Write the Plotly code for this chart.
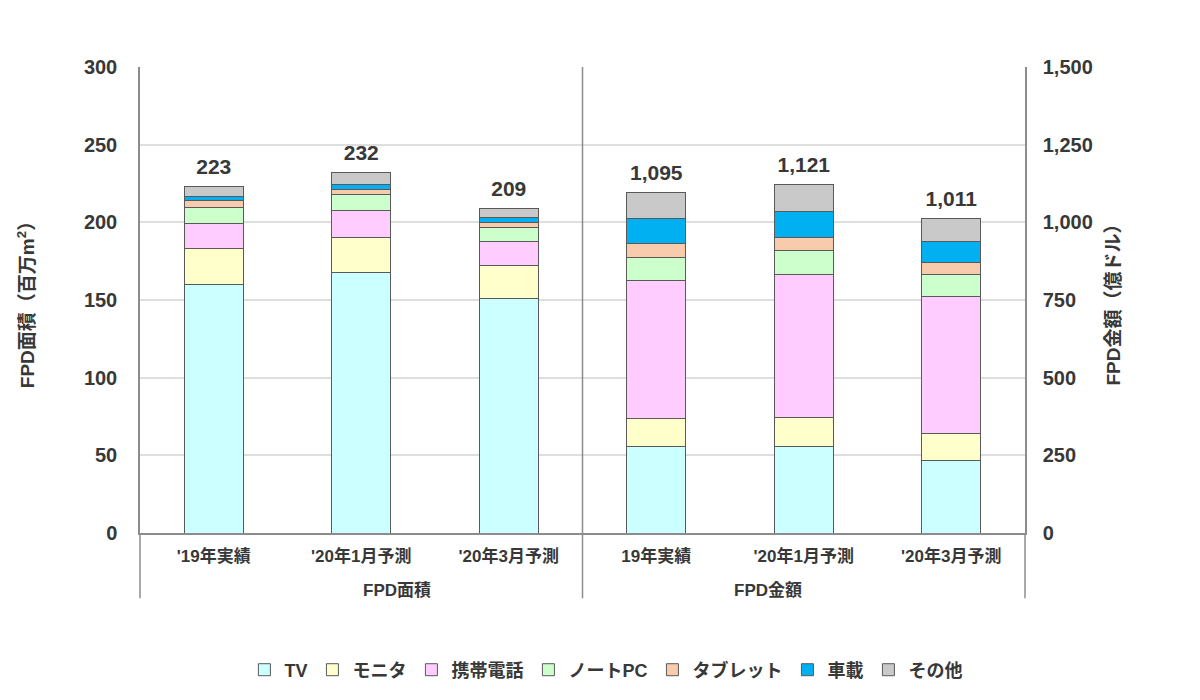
import plotly.graph_objects as go

# ---- data ----
groups = ["FPD面積", "FPD金額"]
area_cats = ["'19年実績", "'20年1月予測", "'20年3月予測"]
value_cats = ["19年実績", "'20年1月予測", "'20年3月予測"]

series_names = ["TV", "モニタ", "携帯電話", "ノートPC", "タブレット", "車載", "その他"]
series_colors = ["#CCFFFF", "#FFFFCC", "#FFCCFF", "#CCFFCC", "#F8CBAD", "#00B0F0", "#C9C9C9"]

# FPD area (million m2)
area_tv = [160, 168, 151]
area_monitor = [23, 22.5, 21]
area_phone = [16.5, 17, 15.5]
area_notepc = [10, 10.5, 9]
area_tablet = [4.5, 3, 3.5]
area_car = [2.5, 3.5, 3]
area_other = [6.5, 7.5, 6]
area_totals = [223, 232, 209]

# FPD value (100 million USD)
value_tv = [278, 278, 233]
value_monitor = [91, 95, 86]
value_phone = [444, 460, 443]
value_notepc = [73, 77, 70]
value_tablet = [47, 40, 38]
value_car = [79, 84, 67]
value_other = [83, 87, 74]
value_totals = [1095, 1121, 1011]

area_series = [area_tv, area_monitor, area_phone, area_notepc, area_tablet, area_car, area_other]
value_series = [value_tv, value_monitor, value_phone, value_notepc, value_tablet, value_car, value_other]

# unique category keys (group + label), displayed with the plain label
x_area = [f"{groups[0]}|{c}" for c in area_cats]
x_value = [f"{groups[1]}|{c}" for c in value_cats]
all_keys = x_area + x_value
all_labels = area_cats + value_cats

FONT = "Liberation Sans, Arial, Noto Sans CJK JP"
TXT = "#383838"
LINE = "#8C8C8C"


def f(size):
    return dict(family=FONT, size=size, color=TXT, weight="bold")


fig = go.Figure()

for name, color, vals in zip(series_names, series_colors, area_series):
    fig.add_trace(go.Bar(
        x=x_area, y=vals, name=name, legendgroup=name,
        marker=dict(color=color, line=dict(color="#595959", width=1)),
        yaxis="y", showlegend=True, hoverinfo="skip"))

for name, color, vals in zip(series_names, series_colors, value_series):
    fig.add_trace(go.Bar(
        x=x_value, y=vals, name=name, legendgroup=name,
        marker=dict(color=color, line=dict(color="#595959", width=1)),
        yaxis="y2", showlegend=False, hoverinfo="skip"))

fig.add_trace(go.Scatter(
    x=x_area, y=area_totals, mode="markers+text",
    text=[f"{v:,}" for v in area_totals], textposition="top center",
    marker=dict(size=10, opacity=0),
    textfont=f(21),
    yaxis="y", showlegend=False, hoverinfo="skip"))

fig.add_trace(go.Scatter(
    x=x_value, y=value_totals, mode="markers+text",
    text=[f"{v:,}" for v in value_totals], textposition="top center",
    marker=dict(size=10, opacity=0),
    textfont=f(21),
    yaxis="y2", showlegend=False, hoverinfo="skip"))

div_shapes = []
for xp in [0, 0.5, 1]:
    div_shapes.append(dict(type="line", xref="paper", yref="paper",
                           x0=xp, x1=xp, y0=-0.14, y1=0,
                           line=dict(color=LINE, width=1.5)))
div_shapes.append(dict(type="line", xref="paper", yref="paper", x0=0.5, x1=0.5,
                       y0=0, y1=1, line=dict(color=LINE, width=1.5)))

annotations = [
    dict(text=groups[0], xref="paper", yref="paper", x=0.25, y=-0.123,
         showarrow=False, font=f(17), yanchor="middle"),
    dict(text=groups[1], xref="paper", yref="paper", x=0.75, y=-0.123,
         showarrow=False, font=f(17), yanchor="middle"),
]

fig.update_layout(
    width=1192, height=692,
    margin=dict(l=132, r=175, t=59, b=163),
    paper_bgcolor="white", plot_bgcolor="white",
    barmode="stack", bargap=0.6,
    font=dict(family=FONT, color=TXT),
    xaxis=dict(
        type="category", categoryorder="array", categoryarray=all_keys,
        tickmode="array", tickvals=all_keys, ticktext=all_labels,
        range=[-0.5, 5.5], automargin=False,
        showline=True, linecolor=LINE, linewidth=1.5,
        tickfont=f(17), ticklabelstandoff=7,
        showgrid=False, ticks=""),
    yaxis=dict(
        range=[0, 300], dtick=50, tickformat=",", automargin=False,
        showline=True, linecolor=LINE, linewidth=1.5,
        showgrid=True, gridcolor="#DEDEDE", gridwidth=1.5,
        zeroline=False, ticks="", ticklabelstandoff=17,
        tickfont=f(20),
        title=dict(text="FPD面積（百万m<sup>2</sup>）", standoff=44, font=f(19))),
    yaxis2=dict(
        range=[0, 1500], dtick=250, tickformat=",", automargin=False,
        overlaying="y", side="right",
        showline=True, linecolor=LINE, linewidth=1.5,
        showgrid=False, zeroline=False, ticks="", ticklabelstandoff=12,
        tickfont=f(20),
        title=dict(text="FPD金額（億ドル）", standoff=15, font=f(19))),
    legend=dict(
        orientation="h", x=0.527, xanchor="center", y=-0.294, yanchor="middle",
        font=f(18), traceorder="normal", itemwidth=30),
    shapes=div_shapes,
    annotations=annotations,
)

fig.write_html("out.html")
